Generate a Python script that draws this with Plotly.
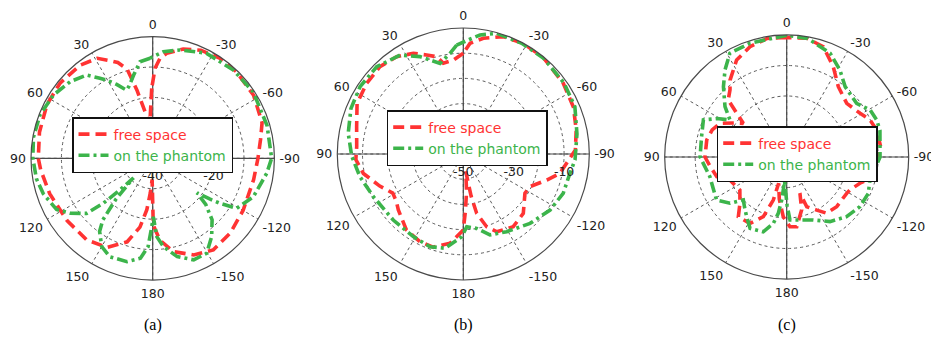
import plotly.graph_objects as go

# ---------------- data (angles as printed on the chart, gain in dB) ----------------
ANG_TICKVALS = [0, 30, 60, 90, 120, 150, 180, 210, 240, 270, 300, 330]
ANG_TICKTEXT = ["0", "30", "60", "90", "120", "150", "180", "-150", "-120", "-90", "-60", "-30"]
SERIES = ["free space", "on the phantom"]
PANEL_LABELS = ["(a)", "(b)", "(c)"]

# panel (a)
a_free_theta = [0.8, 5, 9, 13, 16, 20, 24, 29, 38, 51, 63, 77, 90, 96, 109, 126, 141, 153, 163, 169.5,
                173.5, 176, 178.5, -179.5, -175, -167.6, -157, -146.5, -134, -120, -102, -90, -80, -72,
                -58, -44, -34, -24, -15.6, -7.6, -4.2, -1.5, 0.8]
a_free_r = [-17, -29, -25, -17, -9.5, -6.5, -4.8, -2.4, -1.2, -0.8, -1.0, -1.8, -2.4, -3.0, -4.2, -5.2, -5.5,
            -7.1, -11.3, -17, -23, -28.5, -33, -18, -13, -8.6, -5.5, -3.9, -4.6, -5.7, -6.1, -5.4, -4,
            -2.2, -0.9, -0.4, -0.4, -1.1, -2.7, -5.2, -7, -10.4, -17]
a_ph_theta = [1.5, 7.5, 13, 18, 21, 26, 30, 33.4, 38.4, 47, 57.5, 69, 80, 90, 100, 108, 118, 123.6, 129.8,
              132.3, 134, 135.5, 138, 141, 144, 150, 156.5, 166, 173, 177, 179.2, -179.4, -177, -173,
              -166, -158, -150.4, -143, -136, -131, -128, -125.5, -123.8, -120.8, -111, -97.5, -90, -74,
              -56.5, -42.4, -27, -14, -5.7, 1.5]
a_ph_r = [-7.1, -8, -12, -15, -16, -13, -10.5, -8.5, -5.1, -3, -1.3, -0.3, -0.2, -0.6, -1.2, -2.2, -4.2,
          -7.4, -11.7, -18, -25, -31, -22, -14, -10.3, -6.5, -4.7, -5, -6.9, -10.9, -17.5, -20.8, -14.2,
          -10.7, -6.7, -4, -4.1, -7.8, -11.9, -16.9, -21.5, -17, -13.4, -7.9, -4.6, -2.2, -0.9, -0.9,
          -0.4, -0.7, -1.2, -3.3, -4.8, -7.1]

# panel (b)
b_free_theta = [0, 6, 12.4, 15.3, 20.3, 26.4, 34.4, 43.7, 53.8, 64.5, 75.6, 86, 93, 101, 111, 119, 125,
                130.7, 143, 153.7, 162, 171.5, 180, -178, -175, -172, -169.5, -167.3, -162.2, -156.7,
                -145.5, -134.7, -122.5, -116, -107.3, -101.3, -95, -88, -78, -67, -54.7, -39.4, -28.5,
                -18.8, -9.8, -3.5, 0]
b_free_r = [-10, -12.5, -13.1, -10, -8.1, -5.4, -3.2, -2.1, -2.5, -3.3, -6.3, -7.6, -7.3, -9.6, -14.5, -18,
            -17.5, -16, -12.4, -11.2, -11.1, -14.2, -19.8, -27, -35, -43, -33, -25.9, -19.7, -16.4, -15,
            -16.5, -21, -20.5, -15.3, -10.9, -8.8, -5.5, -4.2, -2.5, -1.4, -0.2, -0.1, -0.8, -3.4, -6, -10]
b_ph_theta = [3.5, 7.5, 14.4, 19.5, 24, 32.6, 44.8, 56.9, 68, 79.8, 91, 102.4, 115.4, 133.3, 148.8, 160.2,
              169, 179, -177.3, -169.8, -161.8, -150.8, -136.1, -122.9, -111.5, -100.3, -93, -80, -67,
              -55, -40, -28, -15.5, -8, -3, 3.5]
b_ph_r = [-6.7, -9.7, -12.9, -10.4, -7.7, -3.4, -1.2, -1.1, -1.9, -3.6, -5.7, -8, -10.5, -11.8, -11.7,
          -10.9, -11.9, -17.2, -21.1, -20, -16.2, -14.7, -11.8, -9, -7.4, -7, -5.6, -4.2, -1.9, -1.1,
          -0.4, -0.3, -0.3, -2.3, -4.5, -6.7]

# panel (c)
c_free_theta = [0, 9.4, 18.4, 27.3, 36.4, 40.2, 45.7, 48.8, 52.2, 57, 63.2, 70, 78, 90, 97, 105.7, 112,
                125.2, 134.8, 141, 151, 158.6, 162.7, 163, 170, 176.7, -177.3, -171.8, -164.2, -160, -158,
                -150.5, -144.6, -134.8, -121.2, -117.5, -109.7, -106, -103.3, -90, -84, -73.3, -66, -59.2,
                -48.2, -36.3, -27.3, -18.4, -9.6, 0]
c_free_r = [-0.8, -0.6, -1.9, -4.2, -8.7, -11.2, -13.2, -18.2, -22, -19.5, -15.5, -14, -13.2, -13.2, -14.7,
            -16.2, -19.9, -21.2, -18.4, -14.8, -15.1, -19, -25.2, -31, -26, -20.4, -17.1, -16.9, -22,
            -27.3, -22.4, -20, -17.4, -16.9, -17, -16.6, -14.5, -12.7, -11.9, -10, -9, -9.2, -10.1, -12,
            -13.6, -11.4, -6.7, -1.9, -0.5, -0.8]
c_ph_theta = [0, 17.9, 28.7, 35.3, 42, 50.8, 56.9, 61, 66, 76.6, 90, 104.4, 113, 121.6, 129.2, 134.7, 140,
              146.2, 152.8, 162.6, 168.6, 171.5, 173.4, 175, -179.5, -177, -168, -157.1, -146.2, -134.9,
              -124.1, -114, -105.4, -90, -74, -67.6, -60.6, -52.5, -39.7, -31.5, -22.7, -10, 0]
c_ph_r = [-0.1, -0.8, -1.2, -5, -9, -13.9, -17.8, -14, -10.1, -11.3, -11.6, -14, -13.8, -13, -16, -20,
          -18.5, -16.4, -13.7, -14.3, -17.8, -21.3, -25.8, -32, -24, -19.3, -18.9, -17.6, -14.5, -12.3,
          -11, -10.7, -11.7, -9.4, -8.2, -8.1, -8.6, -11.1, -10, -6.6, -3.1, -0.5, -0.1]

RANGES = [(-40, 0), (-50, 0), (-40, 0)]
RTICKS = [[-40, -30, -20, -10, 0], [-50, -40, -30, -20, -10, 0], [-40, -30, -20, -10, 0]]
RTEXT = [["-40", "", "-20", "", ""], ["-50", "", "-30", "", "-10", ""], ["-40", "", "-20", "", ""]]

panels = [
    (a_free_theta, a_free_r, a_ph_theta, a_ph_r),
    (b_free_theta, b_free_r, b_ph_theta, b_ph_r),
    (c_free_theta, c_free_r, c_ph_theta, c_ph_r),
]

# ---------------- styling / layout ----------------
W, H = 931, 341
RED = "#ff3333"
GREEN = "#3cb44b"
AXC = "#4a4a4a"
GRIDC = "#5a5a5a"
FONT = "DejaVu Sans"

# centers and radii in pixels
CENTERS = [(152.7, 158.3, 121.7), (463.3, 154.0, 126.0), (786.7, 157.0, 122.0)]
LEG_POS = [(72, 117), (386.7, 110), (716.7, 126)]
CAP_X = [152.7, 463.3, 786.7]

fig = go.Figure()
layout = dict(width=W, height=H, margin=dict(l=0, r=0, t=0, b=0),
              paper_bgcolor="white", plot_bgcolor="white", showlegend=True)

for i, (ft, fr, pt, pr) in enumerate(panels):
    pname = "polar" if i == 0 else f"polar{i+1}"
    lname = "legend" if i == 0 else f"legend{i+1}"
    rmin, rmax = RANGES[i]
    # solid cross-hair axes (0-180 and 90/-90)
    for tt in ([0, 0, 180], [90, 90, -90]):
        fig.add_trace(go.Scatterpolar(theta=tt, r=[rmax, rmin, rmax], mode="lines",
                                      line=dict(color=AXC, width=1.2), subplot=pname,
                                      showlegend=False, hoverinfo="skip"))
    fig.add_trace(go.Scatterpolar(
        theta=ft, r=fr, mode="lines", subplot=pname, legend=lname,
        name=f"<span style='color:{RED}'>{SERIES[0]}</span>",
        line=dict(color=RED, width=3.6, dash="11px,6px")))
    fig.add_trace(go.Scatterpolar(
        theta=pt, r=pr, mode="lines", subplot=pname, legend=lname,
        name=f"<span style='color:{GREEN}'>{SERIES[1]}</span>",
        line=dict(color=GREEN, width=3.6, dash="11px,4px,3px,4px")))

    cx, cy, R = CENTERS[i]
    layout[pname] = dict(
        domain=dict(x=[(cx - R) / W, (cx + R) / W], y=[(H - cy - R) / H, (H - cy + R) / H]),
        bgcolor="white",
        angularaxis=dict(rotation=90, direction="counterclockwise",
                         tickmode="array", tickvals=ANG_TICKVALS, ticktext=ANG_TICKTEXT,
                         showline=True, linecolor=AXC, linewidth=1.2,
                         showgrid=True, gridcolor=GRIDC, gridwidth=1, griddash="dot",
                         ticks="outside", ticklen=2, tickcolor="rgba(0,0,0,0)",
                         tickfont=dict(family=FONT, size=12.5, color="#222")),
        radialaxis=dict(range=[rmin, rmax], angle=0, side="clockwise",
                        tickmode="array", tickvals=RTICKS[i], ticktext=RTEXT[i],
                        showline=False, showgrid=True, gridcolor=GRIDC, gridwidth=1, griddash="dot",
                        ticks="outside", ticklen=6, tickcolor="rgba(0,0,0,0)",
                        tickfont=dict(family=FONT, size=12.5, color="#222")),
    )
    lx, ly = LEG_POS[i]
    layout[lname] = dict(x=lx / W, y=1 - ly / H, xanchor="left", yanchor="top",
                         bgcolor="white", bordercolor="#111", borderwidth=1.5,
                         font=dict(family=FONT, size=14),
                         itemwidth=30)

fig.update_layout(**layout)

for i, lab in enumerate(PANEL_LABELS):
    fig.add_annotation(text=lab, x=CAP_X[i] / W, y=1 - 325 / H, xref="paper", yref="paper",
                       showarrow=False, xanchor="center", yanchor="middle",
                       font=dict(family="Liberation Serif", size=16, color="black"))

fig.write_html("out.html", config={"displayModeBar": False},
               post_script="document.body.style.margin='0px';")
